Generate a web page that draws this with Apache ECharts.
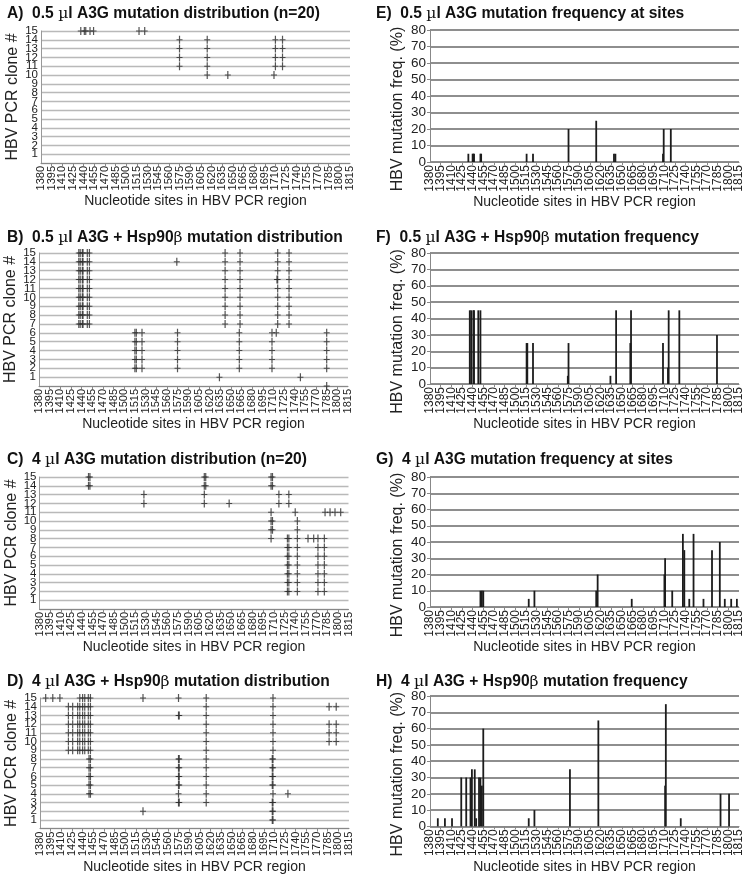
<!DOCTYPE html>
<html><head><meta charset="utf-8">
<script src="https://cdn.jsdelivr.net/npm/echarts@6/dist/echarts.min.js"></script>
<style>html,body{margin:0;padding:0;background:#fff}#c{width:745px;height:875px}</style>
</head><body><div id="c"></div>
<script>
// ---------- tick labels ----------
const siteLabels = ['1380','1395','1410','1425','1440','1455','1470','1485','1500','1515','1530','1545','1560','1575','1590','1605','1620','1635','1650','1665','1680','1695','1710','1725','1740','1755','1770','1785','1800','1815'];
const cloneLabels = ['1','2','3','4','5','6','7','8','9','10','11','12','13','14','15'];
const freqLabels = ['0','10','20','30','40','50','60','70','80'];

// ---------- titles ----------
const titlesLeft = [
  'A)  0.5 µl A3G mutation distribution (n=20)',
  'B)  0.5 µl A3G + Hsp90β mutation distribution',
  'C)  4 µl A3G mutation distribution (n=20)',
  'D)  4 µl A3G + Hsp90β mutation distribution'
];
const titlesRight = [
  'E)  0.5 µl A3G mutation frequency at sites',
  'F)  0.5 µl A3G + Hsp90β mutation frequency',
  'G)  4 µl A3G mutation frequency at sites',
  'H)  4 µl A3G + Hsp90β mutation frequency'
];

// ---------- mutation distribution: [site, [clone numbers]] ----------
const distA = [
  [1436,[15]],[1441,[15]],[1443,[15]],[1449,[15]],[1454,[15]],
  [1518,[15]],[1526,[15]],
  [1575,[11,12,13,14]],
  [1614,[10,11,12,13,14]],
  [1643,[10]],
  [1708,[10]],
  [1710,[11,12,13,14]],
  [1720,[11,12,13,14]]
];
const distB = [
  [1436,[7,8,9,10,11,12,13,14,15]],[1438,[7,8,9,10,11,12,13,14,15]],
  [1441,[7,8,9,10,11,12,13,14,15]],[1442,[7,8,9,10,11,12,13,14,15]],
  [1448,[7,8,9,10,11,12,13,14,15]],[1451,[7,8,9,10,11,12,13,14,15]],
  [1515,[2,3,4,5,6]],[1517,[2,3,4,5,6]],[1525,[2,3,4,5,6]],
  [1574,[14]],[1575,[2,3,4,5,6]],
  [1634,[1]],
  [1642,[7,8,9,10,11,12,13,14,15]],
  [1662,[2,3,4,5,6]],[1663,[7,8,9,10,11,12,13,14,15]],
  [1708,[2,3,4,5,6]],[1714,[6]],[1715,[12]],
  [1716,[7,8,9,10,11,12,13,14,15]],
  [1732,[7,8,9,10,11,12,13,14,15]],
  [1748,[1]],
  [1785,[0,2,3,4,5,6]]
];
const distC = [
  [1449,[14,15]],[1451,[14,15]],
  [1527,[12,13]],
  [1612,[12,13,14,15]],[1614,[14,15]],
  [1647,[12]],
  [1706,[8,9,10,11,14,15]],[1708,[9,10,14,15]],
  [1717,[12,13]],
  [1729,[2,3,4,5,6,7,8]],[1731,[2,3,4,5,6,7,8,12,13]],
  [1740,[11]],
  [1743,[2,3,4,5,6,7,8,9,10]],
  [1758,[8]],[1766,[8]],
  [1772,[2,3,4,5,6,7,8]],
  [1781,[2,3,4,5,6,7,8]],
  [1782,[11]],[1789,[11]],[1796,[11]],[1804,[11]]
];
const distD = [
  [1388,[15]],[1398,[15]],[1408,[15]],
  [1420,[9,10,11,12,13,14]],[1426,[9,10,11,12,13,14]],[1433,[9,10,11,12,13,14]],
  [1436,[9,10,11,12,13,14,15]],[1440,[9,10,11,12,13,14,15]],[1443,[9,10,11,12,13,14,15]],
  [1448,[9,10,11,12,13,14,15]],[1449,[4,5,6,7,8]],
  [1451,[4,5,6,7,8,9,10,11,12,13,14,15]],
  [1525,[2,15]],
  [1575,[3,4,5,6,7,8,13,15]],[1576,[3,5,6,7,8,13]],
  [1614,[3,4,5,6,7,8,9,10,11,12,13,14,15]],
  [1707,[1,2,3,5,6,7,8]],[1708,[1,2,3,4,5,6,7,8,9,10,11,12,13,14,15]],
  [1729,[4]],
  [1787,[10,11,12,14]],[1797,[10,11,12,14]]
];

// ---------- mutation frequency (%): [site, freq] ----------
const freqE = [[1434,5],[1440,5],[1441,5],[1442,5],[1451,5],[1452,5],[1516,5],[1525,5],
  [1575,20],[1614,25],[1639,5],[1641,5],[1709,20],[1708,5],[1719,20]];
const freqF = [[1436,45],[1438,45],[1441,45],[1442,45],[1448,45],[1451,45],[1516,25],[1517,25],
  [1525,25],[1575,25],[1574,5],[1634,5],[1642,45],[1663,45],[1662,25],[1708,25],[1716,45],
  [1715,10],[1731,45],[1784,30]];
const freqG = [[1451,10],[1453,10],[1455,10],[1519,5],[1527,10],[1616,20],[1614,10],[1664,5],
  [1711,30],[1710,20],[1721,10],[1736,45],[1738,35],[1745,5],[1751,45],[1765,5],[1777,35],
  [1788,40],[1795,5],[1804,5],[1812,5]];
const freqH = [[1391,5],[1401,5],[1411,5],[1424,30],[1431,30],[1437,30],[1439,35],[1443,35],
  [1445,5],[1449,30],[1451,30],[1455,60],[1453,25],[1519,5],[1527,10],[1577,35],[1617,65],
  [1712,75],[1711,25],[1733,5],[1789,20],[1801,20]];

// ---------- layout ----------
const FONT = 'Liberation Sans, Arial, Helvetica, sans-serif';
const leftGeom = [
  {left:41, top:31, h:132, tTop:1},
  {left:39, top:253, h:133, tTop:225},
  {left:39.5, top:477, h:132, tTop:447},
  {left:40, top:698, h:131, tTop:669}
];
const rightGeom = [
  {left:430, top:30, h:132, tTop:1},
  {left:430, top:253, h:131, tTop:225},
  {left:430, top:477, h:130, tTop:447},
  {left:430, top:696, h:131, tTop:669}
];
const W = 309;
const PLUS = 'path://M2,0H3V3.5H5V4.5H3V8H2V4.5H0V3.5H2Z';

function richTitle(s){
  return s.split(/([µβ])/).filter(p=>p.length).map(p=>{
    const safe = p.replace(/[{}|]/g,'');
    return (p==='µ'||p==='β') ? '{m|'+safe+'}' : '{b|'+safe+'}';
  }).join('');
}
const titleRich = {
  b:{fontSize:15.6,fontWeight:'bold',fontFamily:FONT,color:'#111'},
  m:{fontSize:15.6,fontWeight:'normal',fontFamily:'DejaVu Serif, '+FONT,color:'#111'}
};

const grids=[], xAxes=[], yAxes=[], series=[], titles=[];
const extraX=[], extraY=[];

function xLabelStyle(fs){
  return {rotate:90,fontSize:fs,color:'#222',margin:3,fontFamily:FONT};
}
function xAxisDef(i, fs){
  return {
    type:'value', gridIndex:i, position:'bottom', min:1380, max:1815, interval:15,
    axisLine:{show:true,onZero:false,lineStyle:{color:'#888',width:1}},
    axisTick:{show:true,length:3,lineStyle:{color:'#888'}},
    splitLine:{show:false},
    axisLabel:Object.assign(xLabelStyle(fs),{showMinLabel:false, showMaxLabel:false,
      formatter:v=>siteLabels.includes(String(v))?String(v):''}),
    name:'Nucleotide sites in HBV PCR region', nameLocation:'middle', nameGap:31,
    nameTextStyle:{fontSize:14,color:'#222',fontFamily:FONT}
  };
}
// companion axis carrying only the end labels (first and last tick label)
function xEndAxis(i, fs){
  return {
    type:'value', gridIndex:i, position:'bottom', offset:0, min:1380, max:1815,
    interval:435,
    axisLine:{show:false}, axisTick:{show:false}, splitLine:{show:false},
    axisLabel:Object.assign(xLabelStyle(fs),{showMinLabel:true, showMaxLabel:true,
      formatter:v=>(String(v)===siteLabels[0]||String(v)===siteLabels[siteLabels.length-1])?String(v):''})
  };
}

leftGeom.forEach((g,k)=>{
  const i = grids.length;
  grids.push({left:g.left, top:g.top, width:W, height:g.h});
  xAxes.push(xAxisDef(i, 11));
  extraX.push(xEndAxis(i, 11));
  const yLab = {fontSize:11.5,color:'#222',margin:3,fontFamily:FONT};
  yAxes.push({
    type:'value', gridIndex:i, position:'left', min:0, max:15, interval:1,
    axisLine:{show:true,lineStyle:{color:'#999'}},
    axisTick:{show:false},
    splitLine:{show:true,lineStyle:{color:'#b9b9b9',width:1.3}},
    axisLabel:Object.assign({},yLab,{showMinLabel:false, showMaxLabel:false,
      formatter:v=>cloneLabels.includes(String(v))?String(v):''}),
    name:'HBV PCR clone #', nameLocation:'middle', nameGap:20,
    nameTextStyle:{fontSize:16,color:'#222',fontFamily:FONT}
  });
  extraY.push({
    type:'value', gridIndex:i, position:'left', offset:0, min:0, max:15, interval:15,
    axisLine:{show:false}, axisTick:{show:false}, splitLine:{show:false},
    axisLabel:Object.assign({},yLab,{showMinLabel:true, showMaxLabel:true,
      formatter:v=>String(v)===cloneLabels[cloneLabels.length-1]?String(v):''})
  });
  const dist = [distA,distB,distC,distD][k];
  const pts = [];
  dist.forEach(([site,clones])=>clones.forEach(c=>pts.push([site,c])));
  series.push({type:'scatter', xAxisIndex:i, yAxisIndex:i, data:pts, symbol:PLUS,
    symbolSize:[6,8], itemStyle:{color:'#2a2a2a'}, clip:false, silent:true});
  titles.push({text:richTitle(titlesLeft[k]), left:2, top:g.tTop, textStyle:{rich:titleRich}});
});

rightGeom.forEach((g,k)=>{
  const i = grids.length;
  grids.push({left:g.left, top:g.top, width:W, height:g.h});
  xAxes.push(xAxisDef(i, 12));
  extraX.push(xEndAxis(i, 12));
  yAxes.push({
    type:'value', gridIndex:i, position:'left', min:0, max:80, interval:10,
    axisLine:{show:true,lineStyle:{color:'#888'}},
    axisTick:{show:true,length:3,lineStyle:{color:'#888'}},
    splitLine:{show:true,lineStyle:{color:'#8e8e8e',width:2}},
    axisLabel:{fontSize:13.5,color:'#222',margin:4,fontFamily:FONT,
      showMinLabel:true, showMaxLabel:true,
      formatter:v=>freqLabels.includes(String(v))?String(v):''},
    name:'HBV mutation freq. (%)', nameLocation:'middle', nameGap:24,
    nameTextStyle:{fontSize:16,color:'#222',fontFamily:FONT,padding:[0,26,0,0]}
  });
  const freq = [freqE,freqF,freqG,freqH][k];
  series.push({type:'bar', xAxisIndex:i, yAxisIndex:i, data:freq, barWidth:1.8,
    itemStyle:{color:'#1c1c1c'}, silent:true});
  titles.push({text:richTitle(titlesRight[k]), left:371, top:g.tTop, textStyle:{rich:titleRich}});
});

const chart = echarts.init(document.getElementById('c'), null, {renderer:'canvas'});
chart.setOption({
  animation:false,
  backgroundColor:'#fff',
  textStyle:{fontFamily:FONT},
  title:titles, grid:grids,
  xAxis:xAxes.concat(extraX), yAxis:yAxes.concat(extraY), series:series
});
</script>
</body></html>
